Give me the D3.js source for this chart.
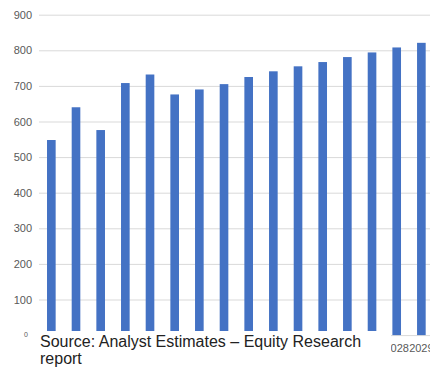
<!DOCTYPE html>
<html>
<head>
<meta charset="utf-8">
<script src="https://cdn.jsdelivr.net/npm/d3@7"></script>
<style>
  html, body { margin: 0; padding: 0; background: #fff; }
  svg { display: block; font-family: "Liberation Sans", Arial, sans-serif; }
</style>
</head>
<body>
<svg id="chart" width="430" height="367"></svg>
<script>
// Yearly values, 2014–2029
const years = ["2014","2015","2016","2017","2018","2019","2020","2021",
               "2022","2023","2024","2025","2026","2027","2028","2029"];
const values = [548, 640, 576, 708, 732, 676, 690, 705,
                725, 741, 755, 767, 781, 794, 808, 821];
const yTicks = [0, 100, 200, 300, 400, 500, 600, 700, 800, 900];
const sourceLines = ["Source: Analyst Estimates – Equity Research", "report"];

const svg = d3.select("#chart");
const plotLeft = 39, plotRight = 433.7, plotTop = 14.7, plotBottom = 335.1;

const x = d3.scaleBand().domain(years).range([plotLeft, plotRight])
  .paddingInner(0.65).paddingOuter(0.325);
const y = d3.scaleLinear().domain([0, 900]).range([plotBottom, plotTop]);

// Horizontal gridlines and value labels
const yAxis = svg.append("g")
  .attr("transform", `translate(${plotLeft},0)`)
  .call(d3.axisLeft(y).tickValues(yTicks).tickSize(-(430 - plotLeft)).tickPadding(7));
yAxis.select(".domain").remove();
yAxis.selectAll(".tick line").attr("stroke", "#d9d9d9").attr("stroke-width", 1);
yAxis.selectAll(".tick text")
  .attr("fill", "#595959")
  .style("font-size", "11px")
  .style("font-family", "'Liberation Sans', Arial, sans-serif");
yAxis.selectAll(".tick text").filter(d => d === 0)
  .attr("x", -11).attr("dy", "0.2em")
  .style("font-size", "7px");

// Bars
svg.append("g").selectAll("rect").data(values).join("rect")
  .attr("x", (d, i) => x(years[i]))
  .attr("width", x.bandwidth())
  .attr("y", d => y(d))
  .attr("height", d => y(0) - y(d))
  .attr("fill", "#4472c4");

// Year labels along the bottom
const xAxis = svg.append("g")
  .attr("transform", `translate(0,${y(0)})`)
  .call(d3.axisBottom(x).tickSize(0).tickPadding(9));
xAxis.select(".domain").remove();
xAxis.selectAll(".tick text")
  .attr("fill", "#595959")
  .style("font-size", "11px")
  .style("font-family", "'Liberation Sans', Arial, sans-serif");

// Source note on a white panel over the lower edge
svg.append("rect")
  .attr("x", 34).attr("y", 331)
  .attr("width", 391 - 34).attr("height", 367 - 331)
  .attr("fill", "#fff");
svg.append("text")
  .attr("x", 40).attr("y", 347)
  .attr("fill", "#222")
  .style("font-size", "16px")
  .selectAll("tspan").data(sourceLines).join("tspan")
  .attr("x", 40)
  .attr("dy", (d, i) => i === 0 ? 0 : 17)
  .text(d => d);
</script>
</body>
</html>
